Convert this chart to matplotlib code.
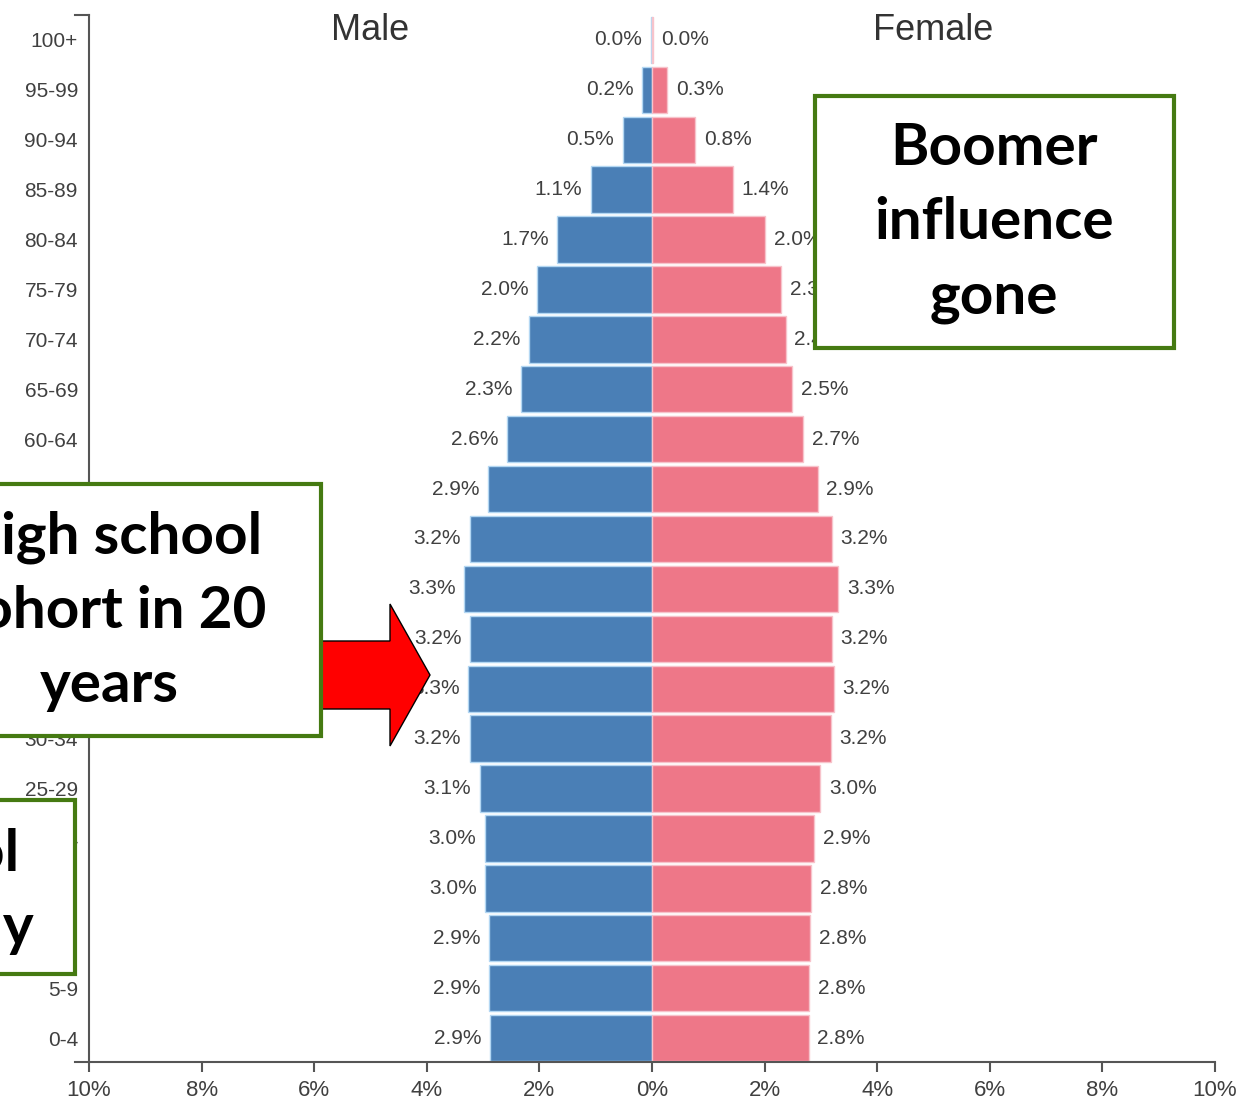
import matplotlib.pyplot as plt
import matplotlib.patches as mpatches

# age groups, bottom to top
age_groups = ['0-4', '5-9', '10-14', '15-19', '20-24', '25-29', '30-34', '35-39',
              '40-44', '45-49', '50-54', '55-59', '60-64', '65-69', '70-74', '75-79',
              '80-84', '85-89', '90-94', '95-99', '100+']
male = [2.88, 2.90, 2.90, 2.96, 2.97, 3.06, 3.24, 3.27, 3.23, 3.34, 3.24,
        2.92, 2.58, 2.33, 2.19, 2.04, 1.68, 1.09, 0.52, 0.17, 0.02]
female = [2.78, 2.79, 2.81, 2.83, 2.88, 2.99, 3.18, 3.23, 3.20, 3.31, 3.20,
          2.94, 2.69, 2.49, 2.38, 2.30, 2.01, 1.44, 0.77, 0.27, 0.02]
x_ticks = [-10, -8, -6, -4, -2, 0, 2, 4, 6, 8, 10]
x_tick_labels = ['10%', '8%', '6%', '4%', '2%', '0%', '2%', '4%', '6%', '8%', '10%']

W, H = 1242, 1099
fig = plt.figure(figsize=(W / 100, H / 100), dpi=100)
ax = fig.add_axes([89 / W, 1 - 1062 / H, (1215 - 89) / W, (1062 - 15) / H])

y = list(range(len(age_groups)))
ax.barh(y, [-v for v in male], height=0.93, color='#4a7fb6', edgecolor='#b3d7f3', linewidth=1.0)
ax.barh(y, female, height=0.93, color='#ee7788', edgecolor='#f7c3cb', linewidth=1.0)

gray = '#404040'
lab_font = dict(fontsize=15, color=gray, family='Liberation Sans', va='center')
for i in y:
    ax.text(-male[i] - 0.15, i, f'{male[i]:.1f}%', ha='right', **lab_font)
    ax.text(female[i] + 0.15, i, f'{female[i]:.1f}%', ha='left', **lab_font)

ax.text(-5, 20.18, 'Male', ha='center', va='center', fontsize=26, color='#333333',
        family='Liberation Sans')
ax.text(5, 20.18, 'Female', ha='center', va='center', fontsize=26, color='#333333',
        family='Liberation Sans')

ax.set_xlim(-10, 10)
ax.set_ylim(-0.48, 20.5)
ax.set_yticks(y)
ax.set_yticklabels(age_groups, family='Liberation Sans', fontsize=15, color=gray)
ax.set_xticks(x_ticks)
ax.set_xticklabels(x_tick_labels, family='Liberation Sans', fontsize=16, color=gray)
ax.tick_params(axis='y', length=0, pad=8)
ax.tick_params(axis='x', length=7, width=1.5, color='#555555', pad=6)
for s in ['top', 'right']:
    ax.spines[s].set_visible(False)
for s in ['left', 'bottom']:
    ax.spines[s].set_color('#555555')
    ax.spines[s].set_linewidth(1.5)
# outer ticks of the y axis
yt = ax.get_yaxis_transform()
for yy in [20.5, -0.48]:
    ax.plot([-0.012, 0], [yy, yy], color='#555555', lw=1.5, transform=yt, clip_on=False)

# overlay annotations in pixel space
tr = fig.dpi_scale_trans


def px(x, yy):
    return x / 100, (H - yy) / 100


green = '#457a12'
box_font = dict(family=['Lato', 'DejaVu Sans'], fontweight='bold', fontsize=42,
                color='black', ha='center', va='center', linespacing=1.49, zorder=11)

# Boomer box
fig.patches.append(mpatches.Rectangle(px(815, 348), 3.59, 2.52, transform=tr,
                                      facecolor='white', edgecolor=green, lw=3, zorder=10))
fig.text(*px(994, 223), 'Boomer\ninfluence\ngone', transform=tr, **box_font)

# High school cohort box
fig.patches.append(mpatches.Rectangle(px(-40, 736), 3.61, 2.52, transform=tr,
                                      facecolor='white', edgecolor=green, lw=3, zorder=10))
fig.text(*px(109, 611), 'High school\ncohort in 20\nyears', transform=tr, **box_font)

# Third box, bottom left
fig.patches.append(mpatches.Rectangle(px(-290, 974), 3.65, 1.74, transform=tr,
                                      facecolor='white', edgecolor=green, lw=3, zorder=10))
fig.text(*px(-134, 891), 'High school\ncohort today', transform=tr, **box_font)

# red arrow
x0, y0 = px(321, 675)
fig.patches.append(mpatches.FancyArrow(x0, y0, 1.09, 0, width=0.68, head_width=1.42,
                                       head_length=0.40, length_includes_head=True,
                                       transform=tr, facecolor='#ff0000',
                                       edgecolor='black', lw=1, zorder=9))

fig.savefig('out.png', dpi=100)
